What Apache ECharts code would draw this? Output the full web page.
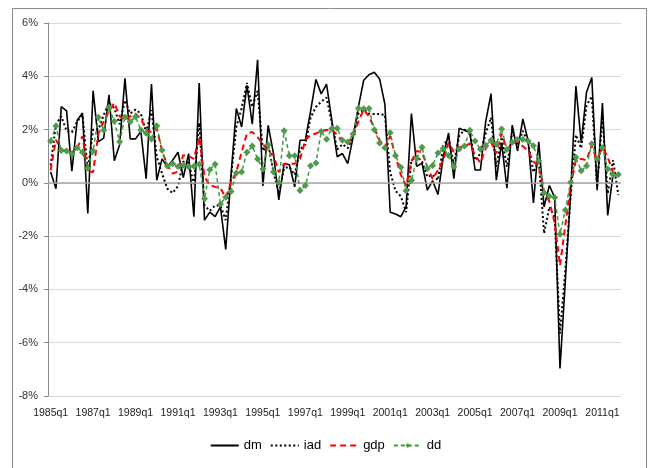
<!DOCTYPE html>
<html>
<head>
<meta charset="utf-8">
<script src="https://cdn.jsdelivr.net/npm/echarts@6/dist/echarts.min.js"></script>
<style>
html,body{margin:0;padding:0;background:#fff;}
#chart{width:651px;height:468px;}
</style>
</head>
<body>
<div id="chart"></div>
<script>
const quarters = [
"1985q1","1985q2","1985q3","1985q4","1986q1","1986q2","1986q3","1986q4",
"1987q1","1987q2","1987q3","1987q4","1988q1","1988q2","1988q3","1988q4",
"1989q1","1989q2","1989q3","1989q4","1990q1","1990q2","1990q3","1990q4",
"1991q1","1991q2","1991q3","1991q4","1992q1","1992q2","1992q3","1992q4",
"1993q1","1993q2","1993q3","1993q4","1994q1","1994q2","1994q3","1994q4",
"1995q1","1995q2","1995q3","1995q4","1996q1","1996q2","1996q3","1996q4",
"1997q1","1997q2","1997q3","1997q4","1998q1","1998q2","1998q3","1998q4",
"1999q1","1999q2","1999q3","1999q4","2000q1","2000q2","2000q3","2000q4",
"2001q1","2001q2","2001q3","2001q4","2002q1","2002q2","2002q3","2002q4",
"2003q1","2003q2","2003q3","2003q4","2004q1","2004q2","2004q3","2004q4",
"2005q1","2005q2","2005q3","2005q4","2006q1","2006q2","2006q3","2006q4",
"2007q1","2007q2","2007q3","2007q4","2008q1","2008q2","2008q3","2008q4",
"2009q1","2009q2","2009q3","2009q4","2010q1","2010q2","2010q3","2010q4",
"2011q1","2011q2","2011q3","2011q4"
];

const dm = [
0.41,-0.22,2.86,2.7,0.44,2.35,2.62,-1.15,3.46,1.55,1.68,3.3,0.83,1.43,3.92,1.65,
1.65,1.93,0.16,3.71,0.1,0.9,0.6,0.85,1.15,0.2,1.1,-1.27,3.75,-1.4,-1.1,-1.27,
-0.9,-2.5,0.3,2.79,2.1,3.66,2.2,4.62,-0.12,2.16,1.1,-0.64,0.72,0.68,-0.15,1.6,
1.6,2.7,3.88,3.34,3.71,2.35,0.98,1.1,0.72,1.72,2.85,3.85,4.06,4.15,3.9,2.95,
-1.1,-1.17,-1.27,-0.9,2.6,0.62,0.74,-0.27,0.08,-0.44,0.98,1.87,0.16,2.05,1.97,1.9,
0.48,0.48,2.3,3.35,0.1,1.5,-0.2,2.17,1.2,2.4,1.58,-0.75,1.54,-0.9,-0.1,-0.55,
-6.97,-3.7,-0.4,3.63,1.5,3.4,3.95,-0.28,3.0,-1.22,0.32,0.3
];

const iad = [
0.66,2.2,2.5,1.95,1.9,2.3,2.55,0.45,2.0,2.0,2.55,3.0,2.8,2.2,3.1,2.6,
2.75,2.6,1.9,2.73,0.98,0.35,-0.22,-0.38,-0.12,0.8,0.75,-0.05,2.25,-0.85,-1.05,-0.85,
-0.85,-1.4,0.2,2.1,2.8,3.75,2.85,3.45,1.2,1.45,0.4,-0.4,0.55,0.6,0.3,1.25,
1.45,2.45,2.85,3.05,3.2,2.25,1.25,1.45,1.3,1.72,2.6,2.75,2.6,2.58,2.58,2.55,
0.4,-0.3,-0.5,-1.1,0.85,1.0,0.8,0.22,0.3,0.1,1.4,1.66,0.72,1.75,2.0,1.9,
0.85,1.1,1.85,2.45,0.6,1.72,0.6,1.92,1.4,1.95,1.5,0.4,0.85,-1.9,-0.9,-1.3,
-5.65,-3.3,-0.5,1.8,1.3,2.9,3.25,-0.15,2.5,-0.4,0.85,-0.46
];

const gdp = [
0.47,1.62,1.25,1.2,1.15,1.3,1.75,0.45,0.4,1.85,2.3,2.7,3.0,2.5,2.35,2.5,
2.6,2.4,2.0,1.9,2.05,1.2,0.65,0.35,0.42,1.04,1.0,0.9,1.72,0.22,-0.09,-0.15,
-0.2,-0.55,0.0,0.41,1.16,1.85,1.91,1.72,1.47,1.16,1.04,0.4,0.72,0.72,0.72,0.9,
1.6,1.8,1.85,1.95,1.98,2.0,1.8,1.55,1.5,1.75,2.3,2.75,2.5,2.05,1.6,1.35,
1.75,1.0,0.3,-0.1,0.8,1.2,1.15,0.6,0.15,0.48,0.85,1.5,1.17,1.35,1.35,1.48,
1.04,0.75,1.29,1.54,1.1,1.85,1.25,1.48,1.54,1.37,1.2,0.8,0.63,-0.3,-0.7,-1.5,
-3.1,-1.6,-0.1,0.85,0.9,0.85,1.42,0.8,1.37,0.95,0.41,0.29
];

const dd = [
1.57,2.13,1.21,1.2,1.08,1.32,1.15,0.55,1.2,2.46,1.97,2.84,2.31,1.54,2.47,2.29,
2.48,1.98,1.86,1.65,2.14,1.22,0.63,0.72,0.61,0.66,0.6,0.62,0.7,-0.6,0.49,0.7,
-0.8,-0.54,-0.32,0.37,0.41,1.15,1.38,0.9,0.52,1.43,0.41,0.0,1.96,1.02,1.02,-0.29,
-0.1,0.64,0.75,1.93,1.64,2.04,2.05,1.6,1.53,1.83,2.8,2.78,2.79,1.99,1.5,1.32,
1.88,1.02,0.59,-0.3,0.1,0.91,1.34,0.54,0.65,1.12,1.29,1.03,0.6,1.27,1.38,1.97,
1.57,1.26,1.4,1.6,1.45,2.02,1.25,1.52,1.63,1.63,1.57,1.39,0.83,-0.37,-0.5,-0.55,
-1.93,-1.02,0.02,0.96,0.45,0.63,1.47,0.9,1.32,0.52,0.3,0.31
];

const yMin = -8, yMax = 6, yStep = 2;
const FONT = "'Liberation Sans', Arial, sans-serif";

const chart = echarts.init(document.getElementById('chart'), null, {renderer: 'canvas'});
chart.setOption({
  animation: false,
  backgroundColor: '#ffffff',
  graphic: [{
    type: 'rect', z: -10,
    shape: {x: 12.5, y: 8.5, width: 634, height: 470},
    style: {fill: '#ffffff', stroke: '#8a8a8a', lineWidth: 1}
  }],
  grid: {left: 48, right: 30, top: 23, bottom: 72, containLabel: false},
  legend: {
    bottom: 11, left: 'center',
    itemWidth: 28, itemHeight: 6, itemGap: 8,
    textStyle: {fontFamily: FONT, fontSize: 13, color: '#000'},
    data: [
      {name: 'dm', itemStyle: {opacity: 0}},
      {name: 'iad', itemStyle: {opacity: 0}},
      {name: 'gdp', itemStyle: {opacity: 0}},
      {name: 'dd'}
    ]
  },
  xAxis: {
    type: 'category',
    data: quarters,
    boundaryGap: true,
    axisLine: {show: false, onZero: false},
    axisTick: {show: false},
    axisLabel: {interval: 7, fontFamily: FONT, fontSize: 10.5, color: '#222', margin: 12}
  },
  yAxis: {
    type: 'value',
    min: yMin, max: yMax, interval: yStep,
    axisLine: {show: true, lineStyle: {color: '#8a8a8a', width: 1}},
    axisTick: {show: true, length: 4, lineStyle: {color: '#8a8a8a'}},
    splitLine: {show: true, lineStyle: {color: '#d9d9d9', width: 1}},
    axisLabel: {formatter: v => v + '%', fontFamily: FONT, fontSize: 11, color: '#333', margin: 10}
  },
  series: [
    {
      name: 'dm', type: 'line', data: dm, symbol: 'none',
      lineStyle: {color: '#000000', width: 1.6, type: 'solid'},
      itemStyle: {color: '#000000'},
      markLine: {
        silent: true, symbol: 'none', label: {show: false},
        lineStyle: {color: '#a6a6a6', width: 1.6, type: 'solid'},
        data: [{yAxis: 0}]
      },
      z: 3
    },
    {
      name: 'iad', type: 'line', data: iad, symbol: 'none',
      lineStyle: {color: '#000000', width: 2, type: [2, 2.5]},
      itemStyle: {color: '#000000'},
      z: 4
    },
    {
      name: 'gdp', type: 'line', data: gdp, symbol: 'none',
      lineStyle: {color: '#ff0000', width: 2, type: [6, 4]},
      itemStyle: {color: '#ff0000'},
      z: 5
    },
    {
      name: 'dd', type: 'line', data: dd,
      symbol: 'diamond', symbolSize: 7, showSymbol: true, showAllSymbol: true,
      lineStyle: {color: '#3e9a3e', width: 1.5, type: [4, 3]},
      itemStyle: {color: '#4f9a4c', borderWidth: 0},
      z: 6
    }
  ]
});
</script>
</body>
</html>
